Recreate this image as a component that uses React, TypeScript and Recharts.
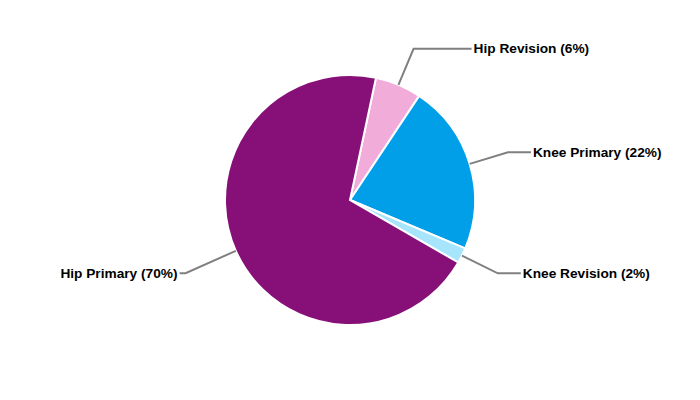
import React from "react";
import { PieChart, Pie, Cell } from "recharts";

// procedure mix, in percent, clockwise from just right of 12 o'clock
const procedures = ["Hip Revision", "Knee Primary", "Knee Revision", "Hip Primary"];
const shares = [6, 22, 2, 70];
const colors = ["#f2acd9", "#009fe8", "#a6e5fb", "#861077"];

const data = procedures.map((name, i) => ({ name, value: shares[i] }));
const total = shares.reduce((a, b) => a + b, 0);

// connector geometry for each label: radius of the elbow and length of the flat tail
const elbowRadius = [164, 165, 165, 180];
const tailLength = [58, 23, 23, 6];

const RADIAN = Math.PI / 180;

const renderLabel = (props: any) => {
  const { cx, cy, midAngle, outerRadius, index, name, value } = props;
  const cos = Math.cos(-midAngle * RADIAN);
  const sin = Math.sin(-midAngle * RADIAN);
  const sx = cx + outerRadius * cos;
  const sy = cy + outerRadius * sin;
  const er = elbowRadius[index];
  const ex = cx + er * cos;
  const ey = cy + er * sin;
  const right = cos >= 0;
  const tx = ex + (right ? 1 : -1) * tailLength[index];
  const pct = Math.round((value / total) * 100);
  return (
    <g>
      <polyline
        points={`${sx},${sy} ${ex},${ey} ${tx},${ey}`}
        fill="none"
        stroke="#808080"
        strokeWidth={2}
      />
      <text
        x={tx + (right ? 2 : -2)}
        y={ey}
        textAnchor={right ? "start" : "end"}
        dominantBaseline="central"
        fontFamily="'Liberation Sans', Arial, sans-serif"
        fontSize={13.7}
        fontWeight="bold"
        fill="#000"
      >
        {`${name} (${pct}%)`}
      </text>
    </g>
  );
};

export default function App() {
  return (
    <div style={{ position: "absolute", left: 0, top: 0, width: 700, height: 400, background: "#fff" }}>
      <PieChart width={700} height={400} margin={{ top: 0, right: 0, bottom: 0, left: 0 }}>
        <Pie
          data={data}
          dataKey="value"
          nameKey="name"
          cx={350}
          cy={200}
          outerRadius={125}
          startAngle={78}
          endAngle={-282}
          stroke="#fff"
          strokeWidth={2}
          label={renderLabel}
          labelLine={false}
          isAnimationActive={false}
        >
          {data.map((d, i) => (
            <Cell key={d.name} fill={colors[i]} />
          ))}
        </Pie>
      </PieChart>
    </div>
  );
}
